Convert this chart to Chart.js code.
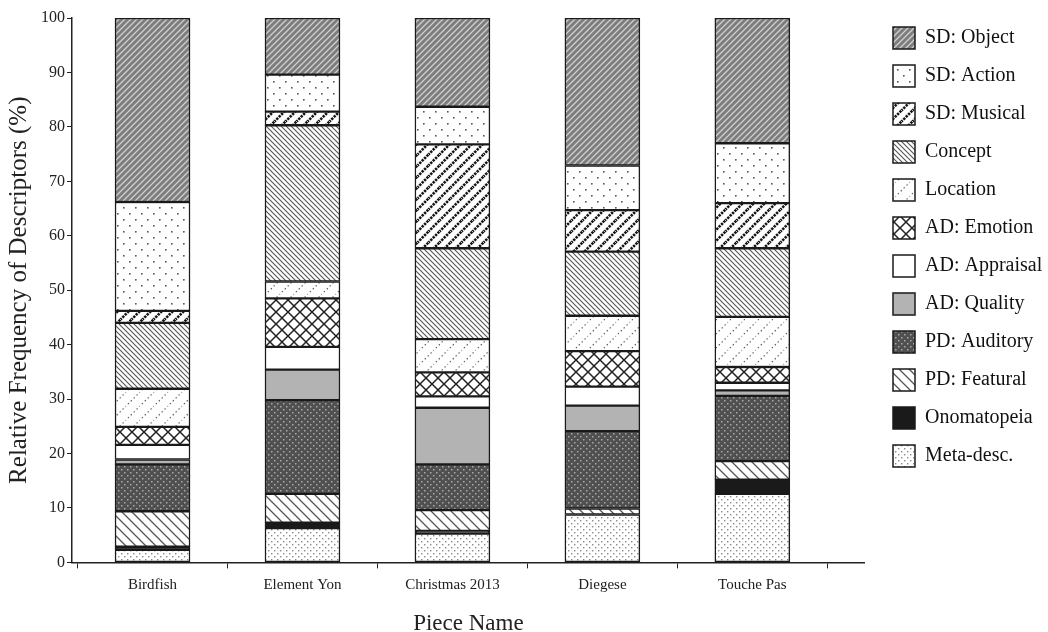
<!DOCTYPE html>
<html><head><meta charset="utf-8">
<script src="https://cdn.jsdelivr.net/npm/chart.js@4.4.1/dist/chart.umd.min.js"></script>
<style>html,body{margin:0;padding:0;background:#fff}#wrap{width:1048px;height:632px}</style>
</head><body><div id="wrap"><canvas id="c" width="1048" height="632"></canvas></div>
<script>
const categories = ['Birdfish', 'Element Yon', 'Christmas 2013', 'Diegese', 'Touche Pas'];
const yTicks = [0, 10, 20, 30, 40, 50, 60, 70, 80, 90, 100];
// series values (% per piece), bottom of stack first
const metaDesc    = [2.3, 6.3, 5.3, 8.8, 12.6];
const onomatopeia = [0.6, 1.0, 0.5, 0.0, 2.6];
const pdFeatural  = [6.5, 5.3, 3.8, 1.1, 3.4];
const pdAuditory  = [8.6, 17.2, 8.4, 14.2, 12.0];
const adQuality   = [0.9, 5.6, 10.4, 4.7, 1.0];
const adAppraisal = [2.7, 4.2, 2.1, 3.5, 1.4];
const adEmotion   = [3.3, 8.9, 4.4, 6.5, 2.9];
const location_   = [7.0, 3.1, 6.1, 6.5, 9.2];
const concept     = [12.1, 28.7, 16.7, 11.8, 12.6];
const sdMusical   = [2.2, 2.5, 19.1, 7.6, 8.3];
const sdAction    = [20.0, 6.8, 6.9, 8.2, 11.0];
const sdObject    = [33.8, 10.4, 16.3, 27.1, 23.0];

function tile(s, bg, draw) {
  const c = document.createElement('canvas');
  c.width = s; c.height = s;
  const g = c.getContext('2d');
  if (bg) { g.fillStyle = bg; g.fillRect(0, 0, s, s); }
  draw(g, s);
  return document.getElementById('c').getContext('2d').createPattern(c, 'repeat');
}
function slash(g, s) { // '/' lines
  g.beginPath();
  g.moveTo(-1, s + 1); g.lineTo(s + 1, -1);
  g.moveTo(-1, 1); g.lineTo(1, -1);
  g.moveTo(s - 1, s + 1); g.lineTo(s + 1, s - 1);
  g.stroke();
}
function back(g, s) { // '\' lines
  g.beginPath();
  g.moveTo(-1, -1); g.lineTo(s + 1, s + 1);
  g.moveTo(s - 1, -1); g.lineTo(s + 1, 1);
  g.moveTo(-1, s - 1); g.lineTo(1, s + 1);
  g.stroke();
}
function dots(g, pts, r, col) { g.fillStyle = col; pts.forEach(p => g.fillRect(p[0], p[1], r, r)); }

const pats = {
  object: tile(6, '#7d7d7d', (g, s) => { g.strokeStyle = '#cfcfcf'; g.lineWidth = 1.3; slash(g, s); }),
  action: tile(12, '#ffffff', (g) => dots(g, [[3, 3], [9, 9]], 1.6, '#555')),
  musical: tile(11, '#ffffff', (g, s) => { g.strokeStyle = '#151515'; g.lineWidth = 2.6; g.setLineDash([2.4, 1.0]); slash(g, s); }),
  concept: tile(5, '#ffffff', (g, s) => { g.strokeStyle = '#555'; g.lineWidth = 1.1; back(g, s); }),
  location: tile(14, '#ffffff', (g, s) => { g.strokeStyle = '#555'; g.lineWidth = 1.2; g.setLineDash([1.3, 2.8]); slash(g, s); }),
  emotion: tile(12, '#ffffff', (g, s) => { g.strokeStyle = '#222'; g.lineWidth = 1.5; slash(g, s); back(g, s); }),
  appraisal: '#ffffff',
  quality: '#b3b3b3',
  auditory: tile(6, '#505050', (g) => dots(g, [[1, 1], [4, 4]], 1.5, '#a8a8a8')),
  featural: tile(10, '#ffffff', (g, s) => { g.strokeStyle = '#555'; g.lineWidth = 1.3; back(g, s); }),
  ono: '#1a1a1a',
  meta: tile(6, '#ffffff', (g) => dots(g, [[1, 1], [4, 4]], 1.4, '#8a8a8a'))
};

const series = [
  ['Meta-desc.', metaDesc, pats.meta],
  ['Onomatopeia', onomatopeia, pats.ono],
  ['PD: Featural', pdFeatural, pats.featural],
  ['PD: Auditory', pdAuditory, pats.auditory],
  ['AD: Quality', adQuality, pats.quality],
  ['AD: Appraisal', adAppraisal, pats.appraisal],
  ['AD: Emotion', adEmotion, pats.emotion],
  ['Location', location_, pats.location],
  ['Concept', concept, pats.concept],
  ['SD: Musical', sdMusical, pats.musical],
  ['SD: Action', sdAction, pats.action],
  ['SD: Object', sdObject, pats.object]
];

Chart.defaults.font.family = "'Liberation Serif', 'DejaVu Serif', serif";
Chart.defaults.color = '#222';

const legendPlace = {
  id: 'legendPlace',
  beforeDraw(chart) {
    const L = chart.legend;
    const w = L.width, h = L.height;
    L.left = 877; L.right = 877 + w;
    L.top = 11; L.bottom = 11 + h;
  }
};

new Chart(document.getElementById('c'), {
  type: 'bar',
  data: {
    datasets: series.map(([label, vals, bg]) => ({
      label,
      data: categories.map((c, i) => ({ x: i, y: vals[i] })),
      backgroundColor: bg,
      borderColor: '#1a1a1a',
      borderWidth: 1.5,
      borderSkipped: false,
      barThickness: 75
    }))
  },
  plugins: [legendPlace],
  options: {
    responsive: false,
    animation: false,
    devicePixelRatio: 1,
    layout: { padding: { top: 18, right: 8, left: 4, bottom: -6 } },
    plugins: {
      tooltip: { enabled: false },
      legend: {
        position: 'right',
        align: 'start',
        reverse: true,
        labels: { boxWidth: 22, boxHeight: 22, padding: 16, font: { size: 20 }, color: '#111' }
      }
    },
    scales: {
      x: {
        type: 'linear',
        stacked: true,
        min: -0.537,
        max: 4.75,
        offset: false,
        grid: { drawOnChartArea: false, drawTicks: true, tickLength: 6, color: '#222' },
        border: { color: '#222', width: 1.5 },
        afterBuildTicks: s => { s.ticks = categories.map((c, i) => ({ value: i })); },
        ticks: { callback: v => categories[v], font: { size: 15 }, color: '#222', autoSkip: false, maxRotation: 0, padding: 8 },
        title: { display: true, text: 'Piece Name', font: { size: 23 }, color: '#222', padding: { top: 8, bottom: 0 } }
      },
      y: {
        stacked: true,
        min: 0,
        max: 100,
        afterBuildTicks: s => { s.ticks = yTicks.map(v => ({ value: v })); },
        grid: { drawOnChartArea: false, drawTicks: true, tickLength: 5, color: '#222' },
        border: { color: '#222', width: 1.5 },
        ticks: { font: { size: 16 }, color: '#222', padding: 2 },
        title: { display: true, text: 'Relative Frequency of Descriptors (%)', font: { size: 25 }, color: '#222', padding: { top: 0, bottom: 5 } }
      }
    }
  }
});
</script></body></html>
